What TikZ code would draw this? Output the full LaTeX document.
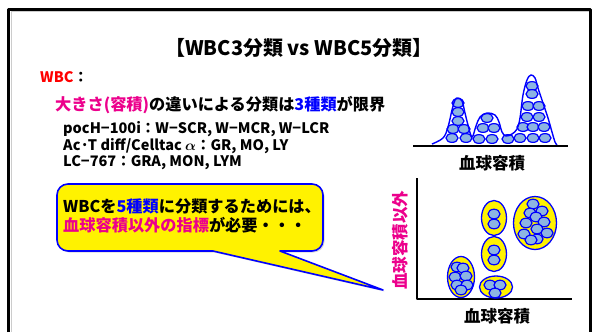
\documentclass[tikz,border=0pt]{standalone}
\usepackage{fontspec}
\setmainfont{Noto Sans CJK JP}
\usetikzlibrary{shadows}

\begin{document}
\begin{tikzpicture}[x=1pt,y=-1pt,line join=round]
  \tikzset{
    txt/.style={font=\bfseries\fontsize{14.5}{16}\selectfont, anchor=west, inner sep=0pt},
    bigtxt/.style={txt, font=\bfseries\fontsize{16.2}{18}\selectfont},
    head/.style={font=\bfseries\fontsize{20}{22}\selectfont, inner sep=0pt},
    axislabel/.style={font=\bfseries\fontsize{16.5}{18}\selectfont, inner sep=0pt},
    cell/.style={draw=blue, fill=cellblue, line width=1.2pt},
    group/.style={draw=blue, fill=yellow, line width=1.3pt},
    axis/.style={line width=1.6pt},
    callout/.style={draw=blue, fill=yellow, line width=1.6pt,
      drop shadow={opacity=0.3, shadow xshift=1.5pt, shadow yshift=-1.5pt}}
  }
  \definecolor{cellblue}{RGB}{141,180,226}
  \useasboundingbox (0,0) rectangle (597,332);

  % Slide frame (open at the bottom)
  \draw[gray!40, line width=0.8pt] (11,332) -- (11,11.5) -- (589,11.5) -- (589,332);
  \draw[line width=3pt] (8.5,332) -- (8.5,9.5) -- (590.5,9.5) -- (590.5,332);

  % Title and text block
  \node[head] (title) at (299,48) {【WBC3分類 vs WBC5分類】};
  \node[txt] (wbc) at (40,77) {\textcolor{red}{WBC}：};
  \node[bigtxt] (limit) at (55,105)
    {\textcolor{magenta}{大きさ(容積)}の違いによる分類は\textcolor{blue}{3種類}が限界};
  \node[txt] (poch) at (63,129) {pocH−100i：W−SCR, W−MCR, W−LCR};
  \node[txt] (act) at (63,146) {Ac·T diff/Celltac {\boldmath$\alpha$}：GR, MO, LY};
  \node[txt] (lc) at (63,163) {LC−767：GRA, MON, LYM};

  % Speech bubble
  \draw[callout] (200,184) [rounded corners=11pt] -- (323,184) -- (323,251)
    [sharp corners] -- (280,251) -- (383,290) -- (213,251)
    [rounded corners=11pt] -- (57,251) -- (57,184) -- cycle;
  \node[bigtxt] (need1) at (63,206) {WBCを\textcolor{blue}{5種類}に分類するためには、};
  \node[bigtxt] (need2) at (63,225) {\textcolor{magenta}{血球容積以外の指標}が必要・・・};

  % Volume histogram built from stacked cells
  \foreach \x/\y in {458/103,458/112,458/121,453/129,464/129,452/138,466/138,
                     487/118,483/128,494/128,479/139,492/139,508/139,
                     532/86,532/94,528/106,539/106,527/117,539/117,
                     523/127,533/127,544/127,520/138,533/138,545/138}
    \draw[cell] (\x,\y) ellipse [x radius=6, y radius=4.4];
  \draw[blue, line width=1.4pt] plot[smooth, tension=0.6] coordinates {
    (432,144) (443,138) (448,127) (452,110) (455,100) (458,98) (462,101)
    (465,113) (468,125) (472,137) (476,126) (480,117) (487,113) (495,115)
    (499,122) (502,132) (506,136) (512,134) (517,129) (520,118) (523,95)
    (527,80) (531,75) (535,78) (538,88) (543,103) (548,118) (552,132)
    (555,142) (557,145)};
  \draw[axis] (413,146) -- (568,146);
  \node[axislabel] (hvol) at (492,163) {血球容積};

  % Scatter plot with yellow clusters
  \draw[axis] (417,178) -- (417,299) -- (572,299);
  \node[axislabel] (xvol) at (497,316) {血球容積};
  \node[axislabel, magenta, rotate=90] (yother) at (400,240) {血球容積以外};

  \draw[group] (461,277) ellipse [x radius=13.5, y radius=20.5];
  \draw[group] (496,287) ellipse [x radius=16.5, y radius=11];
  \draw[group] (494,254) ellipse [x radius=12.5, y radius=17.5];
  \draw[group] (494,218) ellipse [x radius=12.5, y radius=17.5];
  \draw[group] (535,223) ellipse [x radius=21.5, y radius=26.5];

  \foreach \x/\y in {457/267,463/268,455/277,466/276,457/285,467/285,461/290,
                     490/285,500/285,495/293,494/250,494/260,494/214,494/224,
                     533/204,542/211,530/213,536/217,544/222,526/223,
                     537/229,547/233,524/234,537/239,531/240}
    \draw[cell] (\x,\y) ellipse [x radius=6, y radius=4.8];
\end{tikzpicture}
\end{document}
